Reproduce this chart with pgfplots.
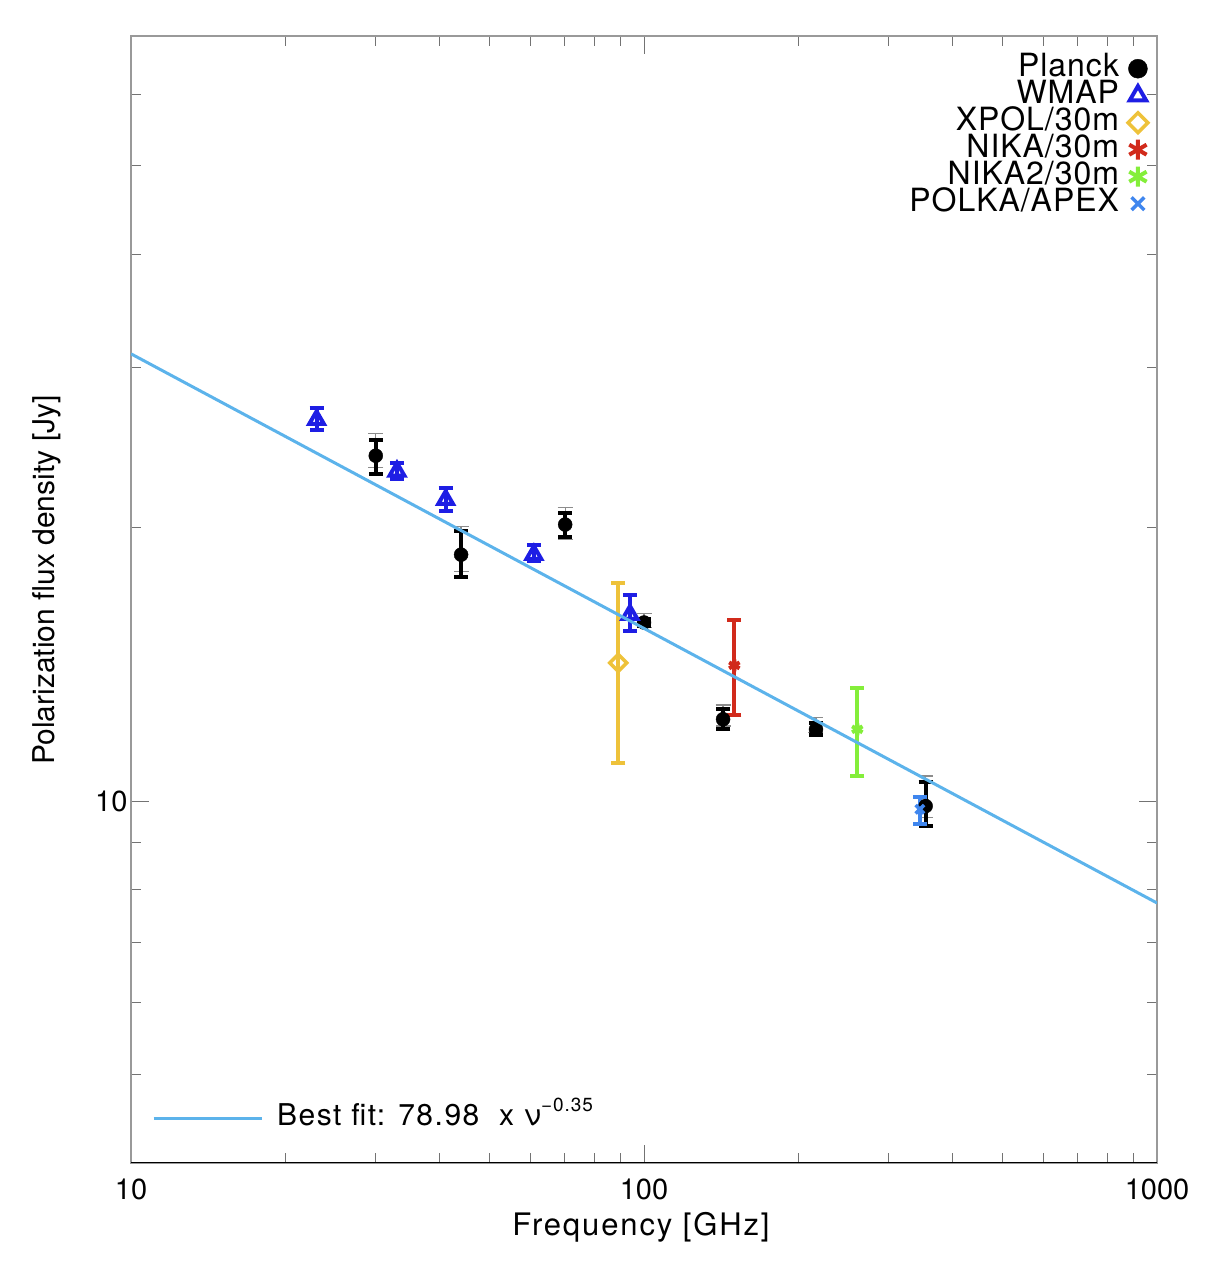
\documentclass[border=0pt]{standalone}
\usepackage{pgfplots}
\pgfplotsset{compat=1.18}
\usepackage{pgfplotstable}
\usepackage{fontspec}
\setmainfont{TeX Gyre Heros}
\newfontfamily\spaced[LetterSpace=3]{TeX Gyre Heros}
\newfontfamily\spacedb[LetterSpace=5]{TeX Gyre Heros}
\newfontfamily\spacedx[LetterSpace=6]{TeX Gyre Heros}
\definecolor{wmapblue}{RGB}{30,30,228}
\definecolor{xpolgold}{RGB}{238,194,58}
\definecolor{nikared}{RGB}{209,42,27}
\definecolor{nikagreen}{RGB}{132,238,58}
\definecolor{polkablue}{RGB}{63,134,238}
\definecolor{fitblue}{RGB}{92,179,235}

\pgfplotstableread{
f v bp bm gp gm
30.0 24.0 1.0 1.07 1.4 0.7
44.0 18.68 1.14 1.05 1.37 0.77
70.2 20.16 0.62 0.61 0.90 0.76
100 15.73 0.15 0.15 0.36 0.20
142.6 12.31 0.31 0.31 0.45 0.21
216.4 12.0 0.18 0.18 0.37 0.10
354 9.88 0.61 0.48 0.78 0.28
}\planck
\pgfplotstableread{
f v ep em
23.0 26.29 0.81 0.69
33.0 23.07 0.50 0.42
41.05 21.47 0.63 0.63
61.0 18.68 0.48 0.31
93.9 16.05 0.83 0.64
}\wmap
\pgfplotstableread{
f v ep em
89.1 14.2 3.19 3.17
}\xpol
\pgfplotstableread{
f v ep em
150 14.11 1.71 1.67
}\nika
\pgfplotstableread{
f v ep em
260.5 12.0 1.33 1.34
}\nikatwo
\pgfplotstableread{
f v ep em
345 9.80 0.30 0.36
}\polka

\pgfplotsset{
  lm/.style={legend image code/.code={\draw[mark repeat=2,mark phase=2,##1,mark size=#1] plot coordinates {(0bp,0bp) (10bp,0bp) (20bp,0bp)};}},
  eb/.style={error bars/.cd, y dir=both, y explicit,
    error bar style={draw=#1, line width=4bp},
    error mark options={rotate=90, draw=#1, line width=4bp, mark size=7bp}},
}

\begin{document}
\begin{tikzpicture}
\useasboundingbox (-131bp,-99bp) rectangle (1085bp,1163bp);
\begin{axis}[
  at={(0,0)}, anchor=south west,
  width=1026bp, height=1127bp, scale only axis,
  xmode=log, ymode=log,
  xmin=10, xmax=1000, ymin=4, ymax=69.5,
  xtick={10,100,1000}, xticklabels={10,100,1000},
  minor xtick={20,30,40,50,60,70,80,90,200,300,400,500,600,700,800,900},
  ytick={10}, yticklabels={10},
  minor ytick={5,6,7,8,9,20,30,40,50,60},
  tick align=inside,
  major tick length=18bp, minor tick length=10bp,
  tick style={black!55, line width=1bp},
  axis line style={draw=black!40, line width=1.2bp},
  ticklabel style={font=\fontsize{29bp}{29bp}\selectfont},
  xticklabel style={yshift=-12bp},
  xlabel={Frequency [GHz]},
  ylabel={Polarization flux density [Jy]},
  xlabel style={font=\spacedx\fontsize{31bp}{31bp}\selectfont, at={(axis description cs:0.497,-0.0639)}, anchor=base},
  ylabel style={font=\fontsize{30bp}{30bp}\selectfont, at={(axis description cs:-0.0741,0.5173)}, anchor=base},
  legend style={at={(rel axis cs:1,1)}, anchor=north east, xshift=-6bp, yshift=-17bp,
    draw=none, fill=none, font=\spaced\fontsize{32bp}{32bp}\selectfont,
    nodes={inner sep=0pt, text height=21bp, text depth=6bp}, column sep=9bp},
  legend plot pos=right,
  legend cell align=right,
]
% Planck systematic (grey) error bars
\addplot[forget plot, draw=none, mark=none,
  error bars/.cd, y dir=both, y explicit,
  error bar style={draw=black!45, line width=1.2bp},
  error mark options={rotate=90, draw=black!45, line width=1.2bp, mark size=7.5bp}]
  table[x=f, y=v, y error plus=gp, y error minus=gm] {\planck};
\addplot[only marks, black, mark=*, mark size=7bp, lm=9.5bp, eb=black]
  table[x=f, y=v, y error plus=bp, y error minus=bm] {\planck};
\addlegendentry{Planck}
\addplot[only marks, wmapblue, mark=triangle, mark size=8.5bp, line width=4bp, lm=9.5bp, eb=wmapblue]
  table[x=f, y=v, y error plus=ep, y error minus=em] {\wmap};
\addlegendentry{WMAP}
\addplot[only marks, xpolgold, mark=square, mark options={rotate=45}, mark size=6bp, line width=3.5bp, lm=7bp, eb=xpolgold]
  table[x=f, y=v, y error plus=ep, y error minus=em] {\xpol};
\addlegendentry{XPOL/30m}
\addplot[only marks, nikared, mark=asterisk, mark size=6bp, line width=4bp, lm=10bp, eb=nikared]
  table[x=f, y=v, y error plus=ep, y error minus=em] {\nika};
\addlegendentry{NIKA/30m}
\addplot[only marks, nikagreen, mark=asterisk, mark size=6bp, line width=4bp, lm=10bp, eb=nikagreen]
  table[x=f, y=v, y error plus=ep, y error minus=em] {\nikatwo};
\addlegendentry{NIKA2/30m}
\addplot[only marks, polkablue, mark=x, mark size=6bp, line width=3.5bp, lm=9bp, eb=polkablue]
  table[x=f, y=v, y error plus=ep, y error minus=em] {\polka};
\addlegendentry{POLKA/APEX}
\draw[black, line width=1.2bp] (rel axis cs:0,0) -- (rel axis cs:1,0);
\end{axis}
\begin{axis}[
  at={(0,0)}, anchor=south west,
  width=1026bp, height=1127bp, scale only axis,
  xmode=log, ymode=log,
  xmin=10, xmax=1000, ymin=4, ymax=69.5,
  hide axis,
  legend style={at={(rel axis cs:0,0)}, anchor=south west, xshift=18bp, yshift=29bp,
    draw=none, fill=none, font=\spacedb\fontsize{30bp}{30bp}\selectfont,
    nodes={inner sep=0pt, text height=20bp, text depth=6bp}, column sep=14bp},
  legend image code/.code={\draw[#1] (0bp,0bp) -- (108bp,0bp);},
]
\addplot[fitblue, line width=3bp] coordinates {(10,31.07) (1000,7.73)};
\addlegendentry{Best fit: 78.98\ \ x ν\raisebox{14bp}{\fontsize{19bp}{19bp}\selectfont −0.35}}
\end{axis}
\end{tikzpicture}
\end{document}
